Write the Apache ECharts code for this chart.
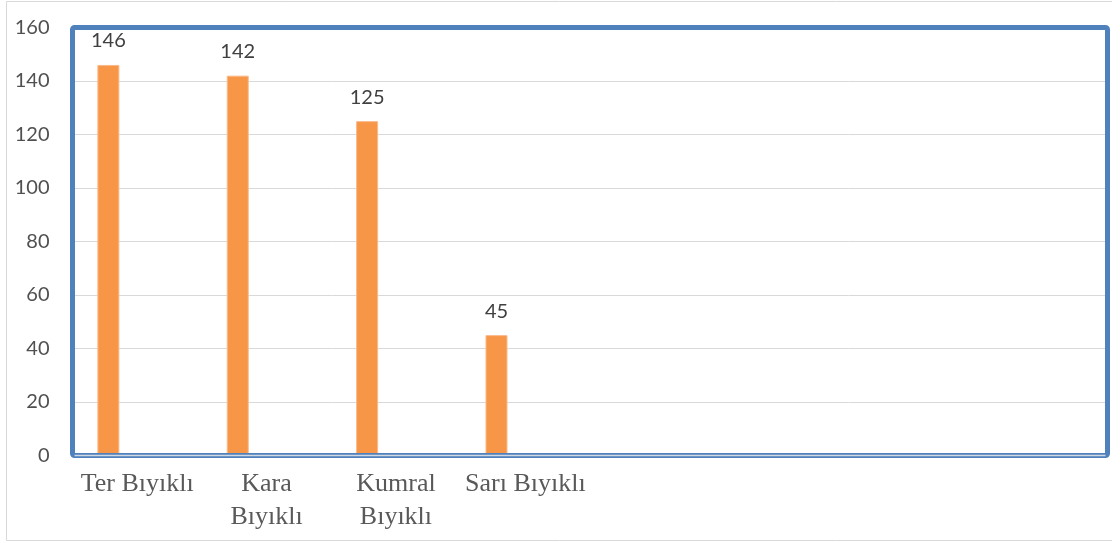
<!DOCTYPE html>
<html>
<head>
<meta charset="utf-8">
<script src="https://cdn.jsdelivr.net/npm/echarts@6/dist/echarts.min.js"></script>
<style>
    html, body { margin: 0; padding: 0; background: #fff; }
    #main { width: 1112px; height: 542px; }
</style>
</head>
<body>
<div id="main"></div>
<script>
// kategoriler (ekseni Excel'deki gibi 8 dilime bölünmüş, son 4'ü boş)
var categories = ['Ter Bıyıklı', 'Kara\nBıyıklı', 'Kumral\nBıyıklı', 'Sarı Bıyıklı', '', '', '', ''];
var counts = [146, 142, 125, 45];
// grubun diğer iki serisi boş
var emptyA = [];
var emptyB = [];
var yTicks = [0, 20, 40, 60, 80, 100, 120, 140, 160];

var W = 1112, H = 542;
var gl = 72.5, gt = 27.5, gr = 4.5, gb = 86.5;

var myChart = echarts.init(document.getElementById('main'));
var option = {
    animation: false,
    graphic: [{
        type: 'rect',
        shape: { x: 6.5, y: 1.5, width: 1130, height: 539 },
        style: { fill: 'none', stroke: '#d9d9d9', lineWidth: 1 },
        silent: true,
        z: 0
    }, {
        // çizim alanı çerçevesi
        type: 'rect',
        shape: { x: gl, y: gt, width: W - gl - gr, height: H - gt - gb, r: 2 },
        style: { fill: 'none', stroke: '#4f81bd', lineWidth: 5 },
        silent: true,
        z: 50
    }, {
        type: 'line',
        shape: { x1: gl + 2, y1: H - gb, x2: W - gr - 2, y2: H - gb },
        style: { stroke: '#d0d8e4', lineWidth: 1.5 },
        silent: true,
        z: 51
    }],
    grid: {
        left: gl,
        right: gr,
        top: gt,
        bottom: gb,
        show: false
    },
    xAxis: {
        type: 'category',
        data: categories,
        axisLine: { show: false },
        axisTick: { show: false },
        axisLabel: {
            color: '#595959',
            fontFamily: 'Liberation Serif',
            fontSize: 26,
            lineHeight: 33,
            margin: 12,
            interval: 0
        }
    },
    yAxis: {
        type: 'value',
        min: yTicks[0],
        max: yTicks[yTicks.length - 1],
        interval: 20,
        axisLine: { show: false },
        axisTick: { show: false },
        axisLabel: {
            color: '#505050',
            fontFamily: 'Lato',
            fontSize: 20,
            margin: 23
        },
        splitLine: {
            show: true,
            lineStyle: { color: '#d9d9d9', width: 1 }
        }
    },
    series: [{
        name: 'Sayı',
        type: 'bar',
        data: counts,
        barWidth: 22,
        barGap: '31%',
        itemStyle: {
            color: '#f79646',
            borderColor: '#fbb98a',
            borderWidth: 1
        },
        label: {
            show: true,
            position: 'top',
            distance: 14,
            color: '#404040',
            fontFamily: 'Lato',
            fontSize: 20
        }
    }, {
        name: 'b',
        type: 'bar',
        data: emptyA,
        barWidth: 22
    }, {
        name: 'c',
        type: 'bar',
        data: emptyB,
        barWidth: 22
    }]
};
myChart.setOption(option);
</script>
</body>
</html>
